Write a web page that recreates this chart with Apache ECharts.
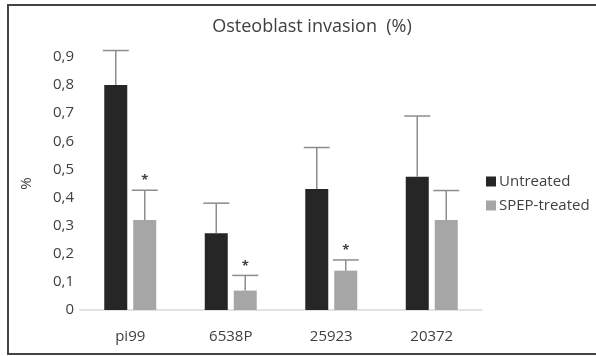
<!DOCTYPE html>
<html><head><meta charset="utf-8">
<script src="https://cdn.jsdelivr.net/npm/echarts@6/dist/echarts.min.js"></script>
<style>html,body{margin:0;padding:0;background:#fff}#c{width:596px;height:356px}</style>
</head><body><div id="c"></div>
<script>
const categories = ['pi99', '6538P', '25923', '20372'];
const untreated = [0.80, 0.273, 0.43, 0.474];
const untreatedErr = [0.123, 0.107, 0.148, 0.216];
const spep = [0.32, 0.069, 0.14, 0.32];
const spepErr = [0.106, 0.054, 0.038, 0.105];
const significant = [true, true, true, false];
const yTicks = [0, 0.1, 0.2, 0.3, 0.4, 0.5, 0.6, 0.7, 0.8, 0.9];

const FONT = 'Open Sans';
const BAR_W = 23, OFFSET = 14.5;

function errItem(vals, errs, dir, flags) {
  return function (params, api) {
    const i = api.value(0);
    const v = vals[i], e = errs[i];
    const base = api.coord([i, v]);
    const top = api.coord([i, v + e]);
    const x = base[0] + dir * OFFSET;
    const children = [
      {type: 'line', shape: {x1: x, y1: base[1], x2: x, y2: top[1]}, style: {stroke: '#8c8c8c', lineWidth: 1.5}},
      {type: 'line', shape: {x1: x - 13, y1: top[1], x2: x + 13, y2: top[1]}, style: {stroke: '#8c8c8c', lineWidth: 1.5}}
    ];
    if (flags && flags[i]) {
      children.push({type: 'text', style: {text: '*', x: x, y: top[1] - 3, align: 'center', verticalAlign: 'bottom', fill: '#404040', font: 'bold 13px ' + FONT}});
    }
    return {type: 'group', children: children};
  };
}

const chart = echarts.init(document.getElementById('c'));
chart.setOption({
  animation: false,
  backgroundColor: '#fff',
  title: {
    text: 'Osteoblast invasion  (%)', left: 307, top: 13, textAlign: 'center',
    textStyle: {fontFamily: FONT, fontSize: 18, fontWeight: 'normal', color: '#404040'}
  },
  legend: {
    orient: 'vertical', left: 481, top: 169, itemWidth: 10, itemHeight: 10, itemGap: 9,
    icon: 'rect',
    textStyle: {fontFamily: FONT, fontSize: 15, color: '#404040', padding: [0, 0, 0, -2]},
    data: ['Untreated', 'SPEP-treated']
  },
  grid: {left: 80, right: 114, top: 57, bottom: 46},
  xAxis: {
    type: 'category', data: categories,
    axisLine: {lineStyle: {color: '#d9d9d9', width: 1.5}},
    axisTick: {show: false},
    axisLabel: {fontFamily: FONT, fontSize: 15, color: '#404040', margin: 19}
  },
  yAxis: {
    type: 'value', min: 0, max: 0.9, interval: 0.1,
    name: '%', nameLocation: 'middle', nameRotate: 90, nameGap: 46,
    nameTextStyle: {fontFamily: FONT, fontSize: 15, color: '#404040'},
    splitLine: {show: false}, axisLine: {show: false}, axisTick: {show: false},
    axisLabel: {fontFamily: FONT, fontSize: 15, color: '#404040', margin: 6,
      formatter: function (v) { return String(Math.round(v * 10) / 10).replace('.', ','); }}
  },
  graphic: [{type: 'rect', shape: {x: 8, y: 5, width: 700, height: 349}, style: {fill: 'none', stroke: '#444', lineWidth: 2}, silent: true}],
  series: [
    {name: 'Untreated', type: 'bar', data: untreated, barWidth: BAR_W, barGap: '26%', itemStyle: {color: '#262626'}},
    {name: 'SPEP-treated', type: 'bar', data: spep, barWidth: BAR_W, itemStyle: {color: '#a6a6a6'}},
    {type: 'custom', data: categories.map((c, i) => [i]), renderItem: errItem(untreated, untreatedErr, -1, null), clip: false, z: 3, silent: true},
    {type: 'custom', data: categories.map((c, i) => [i]), renderItem: errItem(spep, spepErr, 1, significant), clip: false, z: 3, silent: true}
  ]
});
</script></body></html>
